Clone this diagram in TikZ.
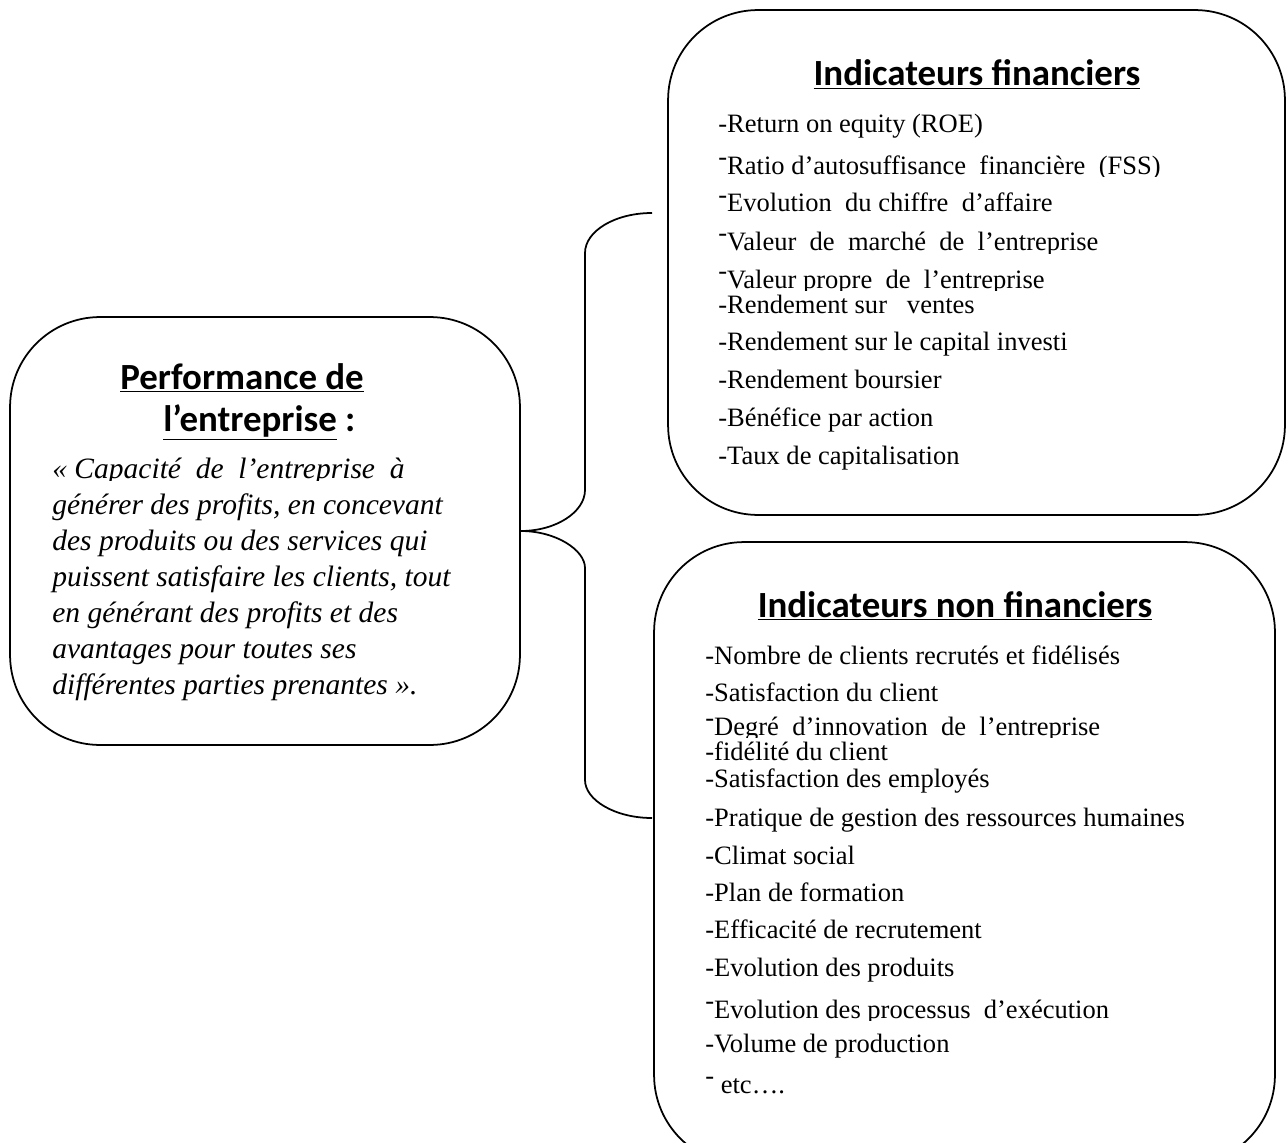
\documentclass[tikz,border=0pt]{standalone}
\usepackage{fontspec}
\setmainfont{Liberation Serif}
\newfontfamily\headfont{Carlito}

\newcommand{\hidash}{\raisebox{0.32em}{-}}
\newcommand{\nodepth}[1]{\raisebox{0pt}[\height][0pt]{#1}}

\tikzset{
  panel/.style={draw, line width=1pt, rounded corners=1.8cm, inner sep=0pt},
  heading/.style={font=\headfont\bfseries\fontsize{21}{25}\selectfont, inner sep=0pt, anchor=base},
  item/.style={font=\fontsize{15.1}{17}\selectfont, inner sep=0pt, anchor=base west},
  quoteline/.style={font=\itshape\fontsize{16.8}{19}\selectfont, inner sep=0pt, anchor=base west},
  brace/.style={line width=1pt}
}

\begin{document}
\begin{tikzpicture}[x=0.02cm,y=-0.02cm]
  \useasboundingbox (0,0) rectangle (1287,1142);
  \clip (0,0) rectangle (1287,1142);

  % the three boxes
  \node[panel, minimum width=10.2cm, minimum height=8.56cm] (perf) at (265,531) {};
  \node[panel, minimum width=12.34cm, minimum height=10.1cm] (fin) at (976.5,262.5) {};
  \node[panel, minimum width=12.42cm, minimum height=12.46cm] (nfin) at (964.5,853.5) {};

  % brace
  \coordinate (finend) at (652,213);
  \coordinate (nfinend) at (652,818);
  \draw[brace] (perf.east) .. controls (556,531) and (585,512) .. (585,490)
    -- (585,253) .. controls (585,231) and (615,213) .. (finend);
  \draw[brace] (perf.east) .. controls (556,531) and (585,550) .. (585,568)
    -- (585,780) .. controls (585,800) and (615,818) .. (nfinend);

  % left box (second field: how far below the baseline a line shows)
  \node[heading, anchor=base west] (perftitle) at (120,389) {\underline{Performance de}};
  \node[heading, anchor=base west] (perftitleb) at (163,431) {\underline{l’entreprise} :};
  \foreach \y/\cut/\txt [count=\i] in {
      478/2/{\nodepth{« Capacité\ \ de\ \ l’entreprise\ \ à}},
      514/20/{générer des profits, en concevant},
      550/20/{des produits ou des services qui},
      586/20/{puissent satisfaire les clients, tout},
      622/20/{en générant des profits et des},
      658/20/{avantages pour toutes ses},
      694/20/{différentes parties prenantes ».}}
  {
    \begin{scope}
      \clip (20,\y-40) rectangle (510,\y+\cut);
      \node[quoteline] (quote\i) at (52,\y) {\txt};
    \end{scope}
  }

  % financial indicators
  \node[heading] (fintitle) at (977,86) {\underline{Indicateurs financiers}};
  \foreach \y/\cut/\txt [count=\i] in {
      133/20/{-Return on equity (ROE)},
      174/3/{\hidash Ratio d’autosuffisance\ \ financière\ \ (FSS)},
      212/20/{\hidash Evolution\ \ du chiffre\ \ d’affaire},
      250/3/{\hidash Valeur\ \ de\ \ marché\ \ de\ \ l’entreprise},
      288/2/{\nodepth{\hidash Valeur propre\ \ de\ \ l’entreprise}},
      313/20/{-Rendement sur\ \ \ ventes},
      350/20/{-Rendement sur le capital investi},
      388/20/{-Rendement boursier},
      426/20/{-Bénéfice par action},
      464/20/{-Taux de capitalisation}}
  {
    \begin{scope}
      \clip (690,\y-40) rectangle (1280,\y+\cut);
      \node[item] (fin\i) at (718,\y) {\txt};
    \end{scope}
  }

  % non financial indicators
  \node[heading] (nfintitle) at (955,617) {\underline{Indicateurs non financiers}};
  \foreach \y/\cut/\txt [count=\i] in {
      664/20/{-Nombre de clients recrutés et fidélisés},
      701/20/{-Satisfaction du client},
      735/2/{\nodepth{\hidash Degré\ \ d’innovation\ \ de\ \ l’entreprise}},
      760/20/{-fidélité du client},
      787/20/{-Satisfaction des employés},
      826/20/{-Pratique de gestion des ressources humaines},
      864/20/{-Climat social},
      901/20/{-Plan de formation},
      938/20/{-Efficacité de recrutement},
      976/20/{-Evolution des produits},
      1018/2/{\nodepth{\hidash Evolution des processus\ \ d’exécution}},
      1052/20/{-Volume de production},
      1093/20/{\hidash\ etc….}}
  {
    \begin{scope}
      \clip (680,\y-40) rectangle (1270,\y+\cut);
      \node[item] (nfin\i) at (705,\y) {\txt};
    \end{scope}
  }
\end{tikzpicture}
\end{document}
